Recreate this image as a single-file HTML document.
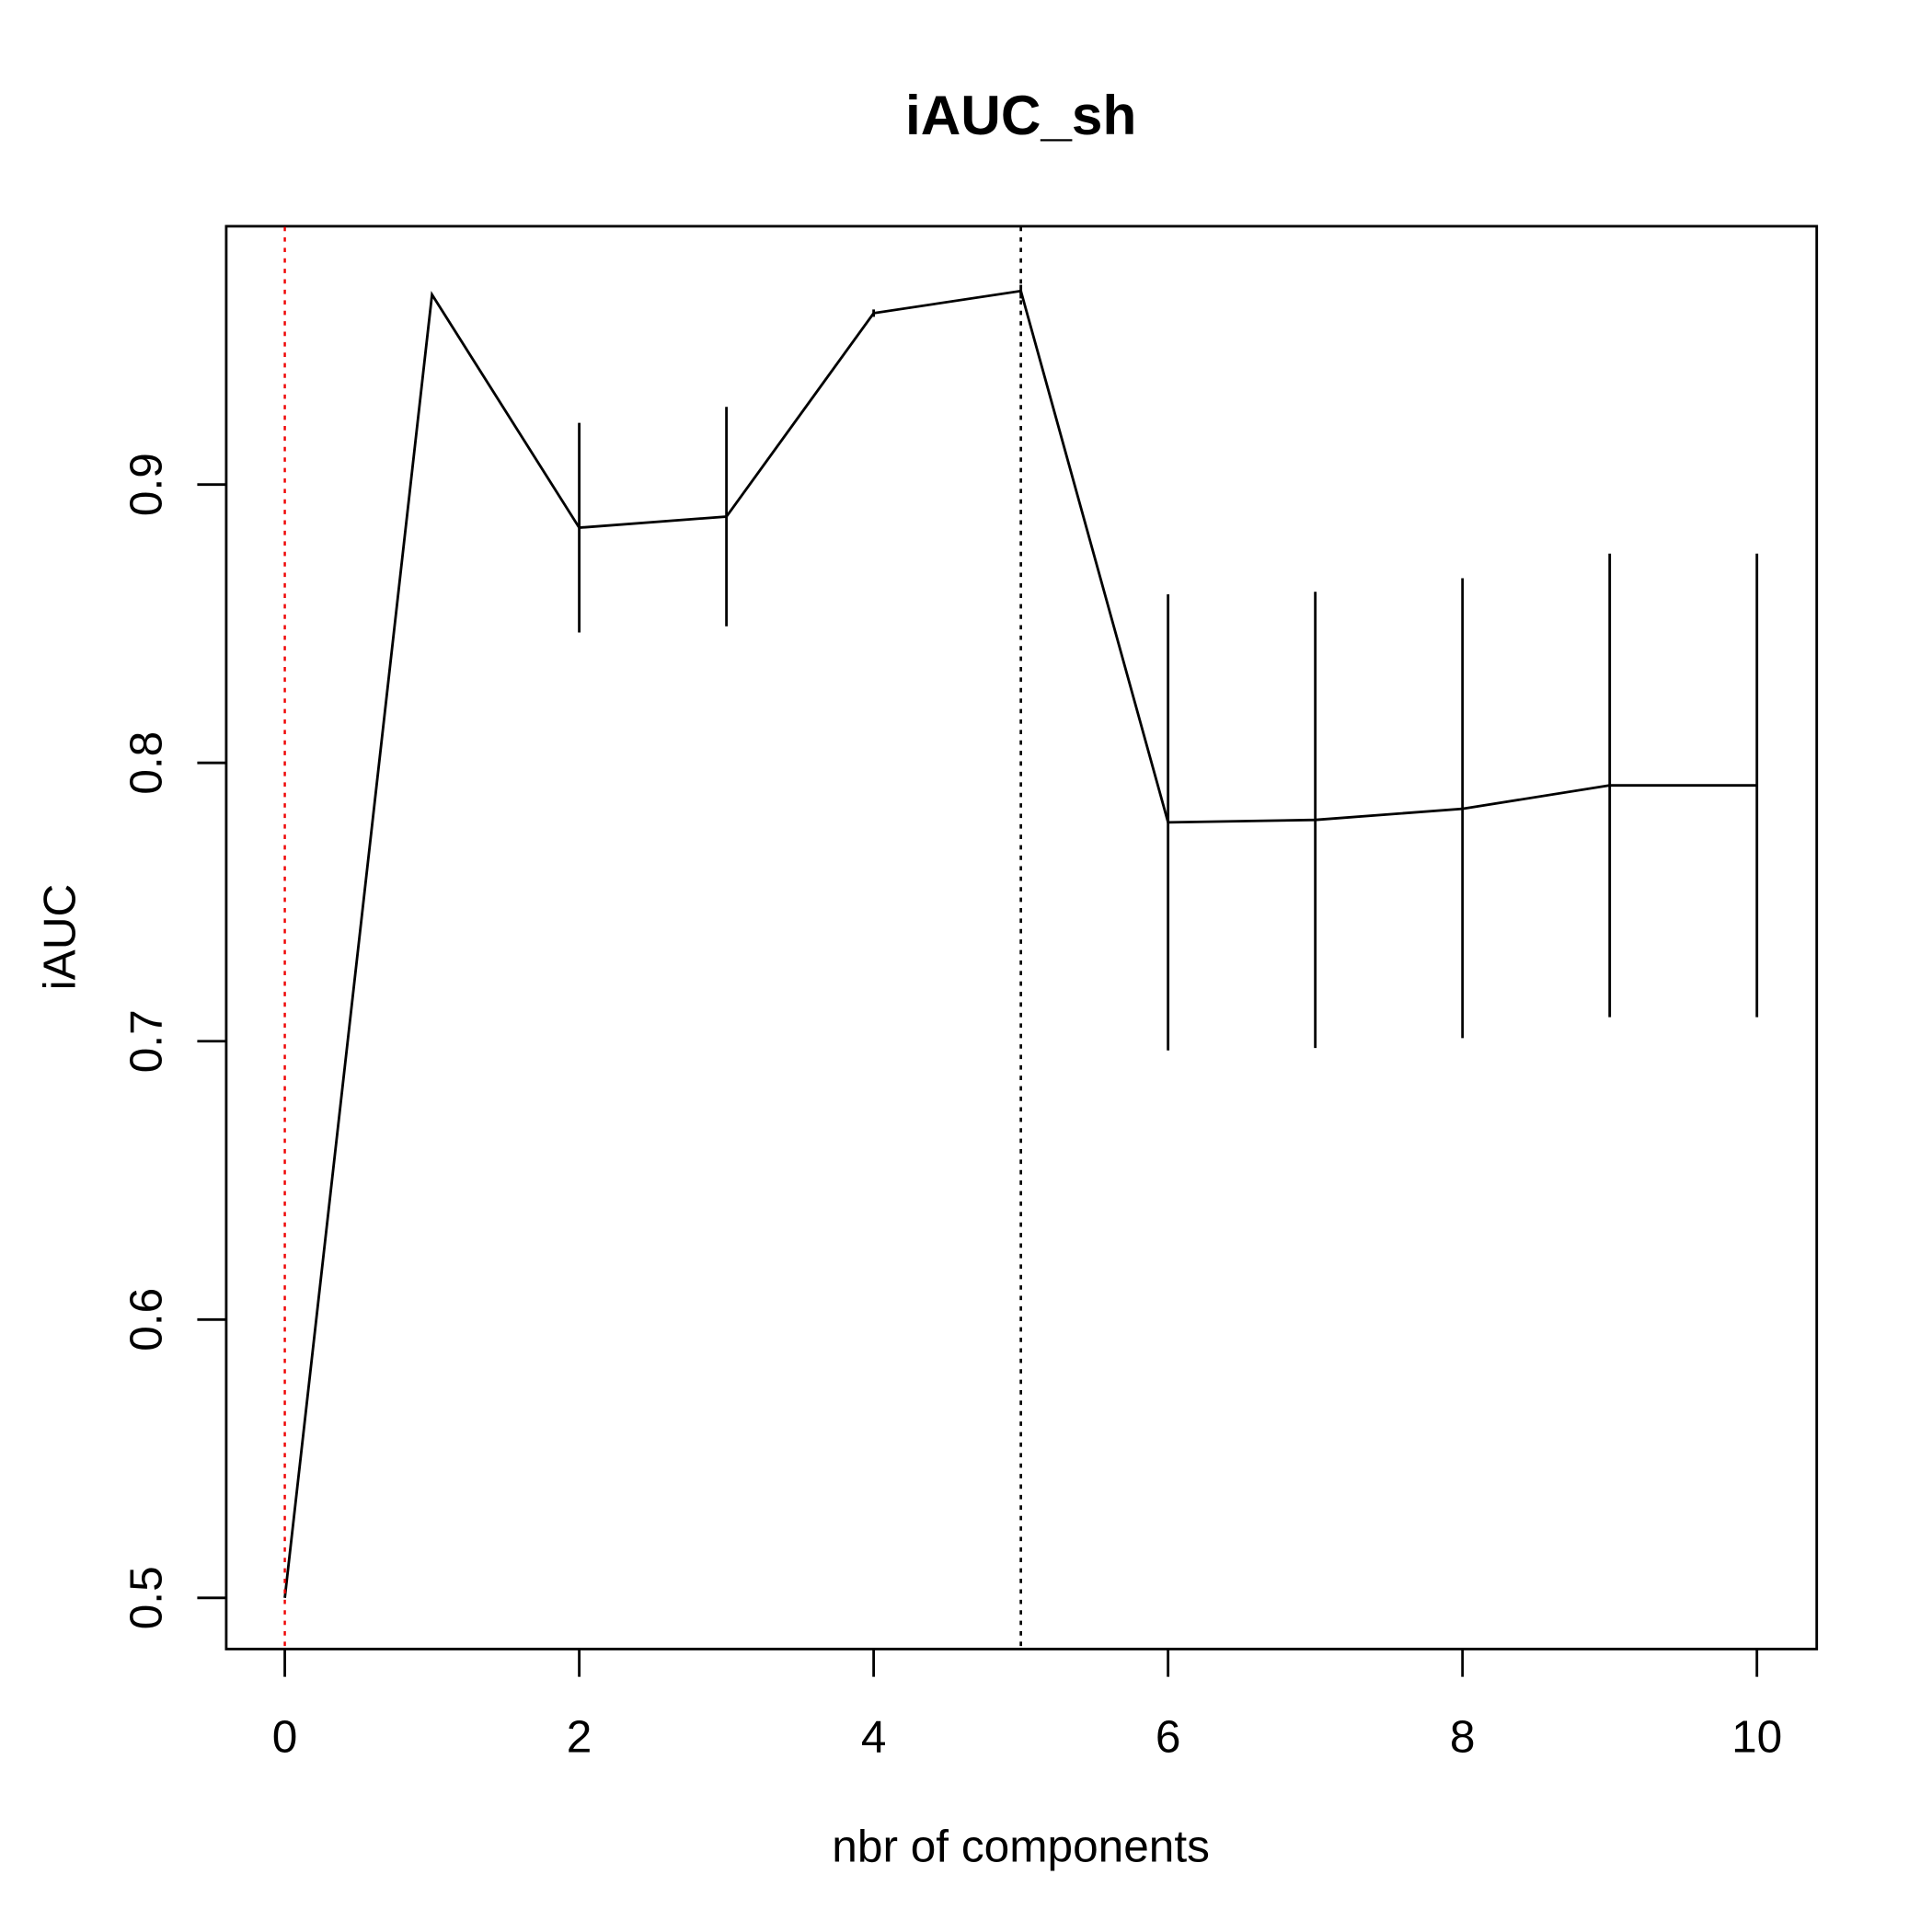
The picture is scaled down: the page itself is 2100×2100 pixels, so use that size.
<!DOCTYPE html>
<html><head><style>html,body{margin:0;padding:0;background:#fff}svg{display:block}</style></head>
<body>
<svg width="2100" height="2100" viewBox="0 0 1567 1567" xmlns="http://www.w3.org/2000/svg" font-family="Liberation Sans, Arial, sans-serif">
<rect x="0" y="0" width="1567" height="1567" fill="#fff"/>
<g stroke="#000" stroke-width="2.1" fill="none">
<rect x="183.5" y="183.5" width="1290" height="1154"/>
<path d="M231,1337V1360 M469.8,1337V1360 M708.6,1337V1360 M947.4,1337V1360 M1186.2,1337V1360 M1425,1337V1360"/>
<path d="M183,1296H160 M183,1070.25H160 M183,844.5H160 M183,618.75H160 M183,393H160"/>
<polyline points="231,1296 350.4,239 469.8,428 589.2,419 708.6,254 828,236 947.4,667 1066.8,665 1186.2,656 1305.6,637 1425,637"/>
<path d="M469.8,343V513 M589.2,330V508 M708.6,251V257 M828,231V242 M947.4,482V852 M1066.8,480V850 M1186.2,469V842 M1305.6,449V825 M1425,449V825"/>
</g>
<line x1="231" y1="184" x2="231" y2="1337" stroke="#e00" stroke-width="1.8" stroke-dasharray="3.5,5"/>
<line x1="828" y1="184" x2="828" y2="1337" stroke="#000" stroke-width="2" stroke-dasharray="3.5,5"/>
<g font-size="37" text-anchor="middle" fill="#000">
<text x="231" y="1421">0</text><text x="469.8" y="1421">2</text><text x="708.6" y="1421">4</text>
<text x="947.4" y="1421">6</text><text x="1186.2" y="1421">8</text><text x="1425" y="1421">10</text>
<text transform="translate(131,1296) rotate(-90)">0.5</text>
<text transform="translate(131,1070.25) rotate(-90)">0.6</text>
<text transform="translate(131,844.5) rotate(-90)">0.7</text>
<text transform="translate(131,618.75) rotate(-90)">0.8</text>
<text transform="translate(131,393) rotate(-90)">0.9</text>
<text x="828" y="1510">nbr of components</text>
<text transform="translate(61,760) rotate(-90)">iAUC</text>
<text x="828" y="109" font-size="45" font-weight="bold">iAUC_sh</text>
</g>
</svg>
</body></html>
